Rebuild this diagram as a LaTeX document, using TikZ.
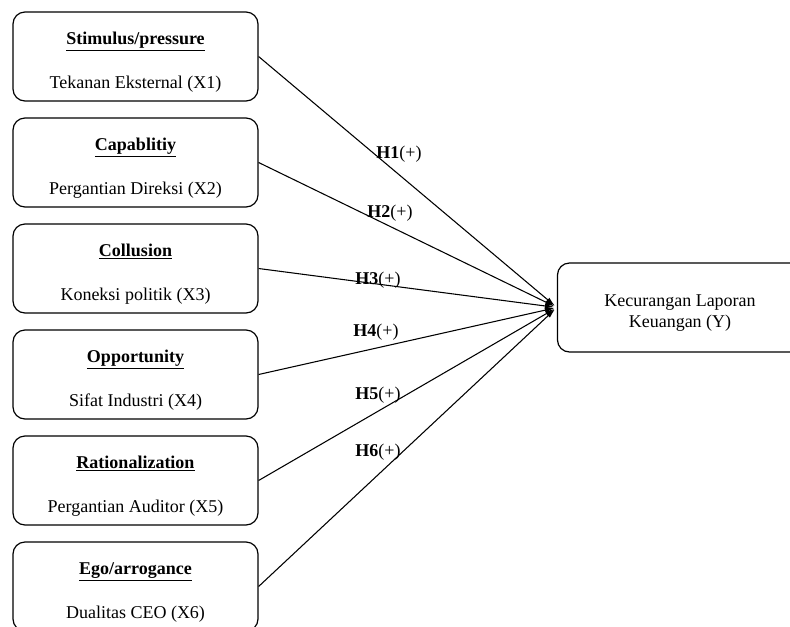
\documentclass[tikz,border=0pt]{standalone}
\usepackage{fontspec}
\setmainfont{Liberation Serif}
\usetikzlibrary{positioning,arrows.meta}

\begin{document}
\begin{tikzpicture}[x=0.75pt,y=-0.75pt,
  varbox/.style={draw,line width=0.9pt,rounded corners=9pt,minimum width=183.75pt,minimum height=66.75pt,align=center,inner sep=0pt,font=\fontsize{13.5}{16}\selectfont},
  hyp/.style={font=\fontsize{13.5}{16}\selectfont},
  effect/.style={line width=0.8pt,-{Latex[length=7pt,width=4pt]},shorten >=2pt}]
\useasboundingbox (0,0) rectangle (790,626);
\clip (0,0) rectangle (790,626);
% independent variables
\foreach \n/\t/\s in {1/{Stimulus/pressure}/{Tekanan Eksternal (X1)},
                      2/{Capablitiy}/{Pergantian Direksi (X2)},
                      3/{Collusion}/{Koneksi politik (X3)},
                      4/{Opportunity}/{Sifat Industri (X4)},
                      5/{Rationalization}/{Pergantian Auditor (X5)},
                      6/{Ego/arrogance}/{Dualitas CEO (X6)}}{
  \node[varbox] (b\n) at (135.5,{56.5+106*(\n-1)}) {\rule{0pt}{18pt}\underline{\textbf{\t}}\\[17pt]\s};
}
% dependent variable
\node[varbox] (y) at (680,307.5) {\rule{0pt}{17pt}Kecurangan Laporan\\Keuangan (Y)};
% hypotheses
\foreach \n in {1,...,6}
  \draw[effect] (b\n.east) -- (y.west);
\node[hyp] (h1) at (399,154) {\textbf{H1}(+)};
\node[hyp] (h2) at (390,213) {\textbf{H2}(+)};
\node[hyp] (h3) at (378,280) {\textbf{H3}(+)};
\node[hyp] (h4) at (376,332) {\textbf{H4}(+)};
\node[hyp] (h5) at (378,395) {\textbf{H5}(+)};
\node[hyp] (h6) at (378,452) {\textbf{H6}(+)};
\end{tikzpicture}
\end{document}
